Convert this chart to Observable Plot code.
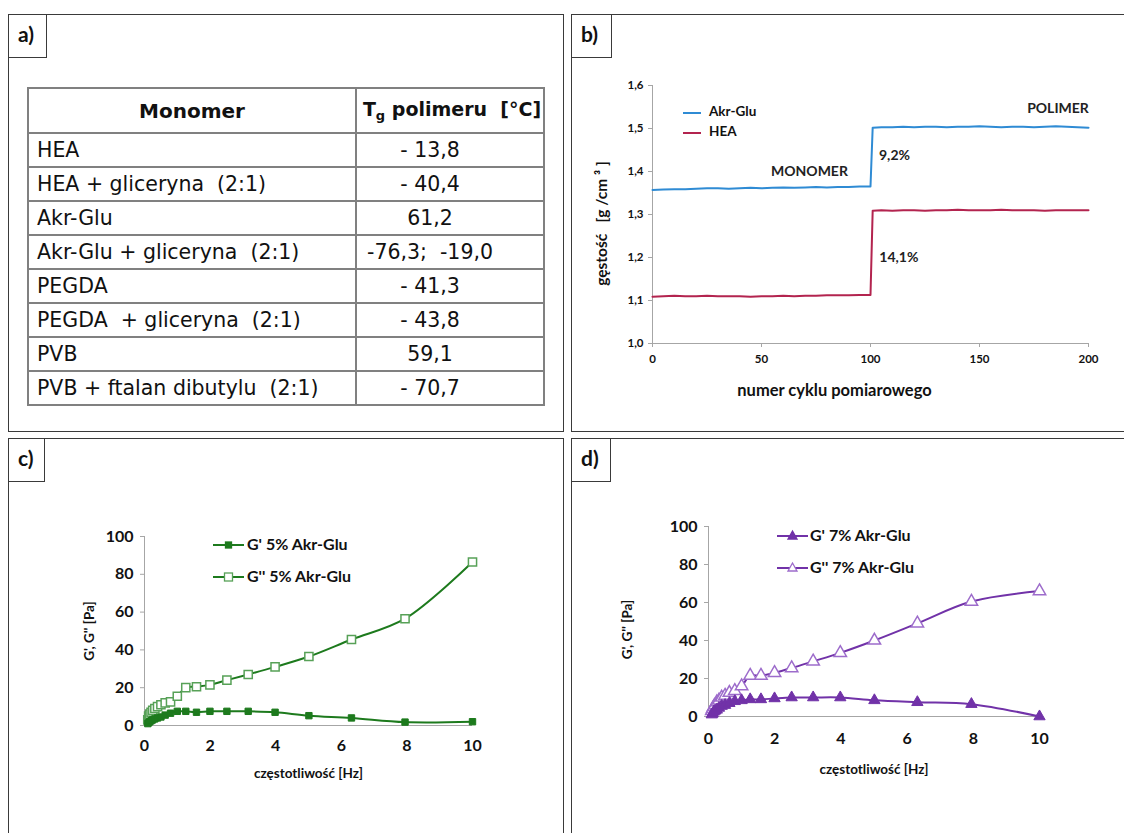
<!DOCTYPE html>
<html><head><meta charset="utf-8">
<script src="https://cdn.jsdelivr.net/npm/d3@7"></script>
<script src="https://cdn.jsdelivr.net/npm/@observablehq/plot@0.6"></script>
<style>
html,body{margin:0;padding:0;background:#fff}
body{width:1124px;height:833px;overflow:hidden;position:relative;font-family:Lato,"Open Sans",sans-serif}
.panel{position:absolute;border:1.5px solid #3a3a3a;box-sizing:border-box;background:#fff}
.lab{position:absolute;border:1.5px solid #3a3a3a;box-sizing:border-box;font:bold 21px Lato,sans-serif;padding:6px 0 0 9px;color:#111}
.abs{position:absolute}
table.tg{position:absolute;left:27px;top:87px;width:518px;border-collapse:collapse;font-family:"DejaVu Sans",sans-serif;font-size:20.5px;color:#111}
table.tg td,table.tg th{border:2px solid #808080;padding:0 0 0 8px;height:32px;white-space:pre}
table.tg th{height:43px;font-weight:bold;font-size:20px;text-align:center;padding:0}
table.tg th.tgh{font-size:19px;padding-left:4px}
table.tg td.v{text-align:center;padding:0 40px 0 0}
.leg{position:absolute;font:bold 16px Lato,sans-serif;color:#111;white-space:pre;line-height:16px}
</style></head>
<body>
<div class="panel" style="left:8px;top:14px;width:556px;height:418px"></div>
<div class="panel" style="left:571px;top:14px;width:560px;height:418px"></div>
<div class="panel" style="left:8px;top:438px;width:556px;height:400px"></div>
<div class="panel" style="left:571px;top:438px;width:560px;height:400px"></div>
<div class="lab" style="left:8px;top:14px;width:39px;height:44px">a)</div>
<div class="lab" style="left:571px;top:14px;width:41px;height:44px">b)</div>
<div class="lab" style="left:8px;top:438px;width:37px;height:44px">c)</div>
<div class="lab" style="left:571px;top:438px;width:40px;height:44px">d)</div>
<table class="tg" id="tbl"></table>
<div id="pb" class="abs" style="left:570px;top:57px"></div>
<div id="pc" class="abs" style="left:8px;top:481px"></div>
<div id="pd" class="abs" style="left:571px;top:481px"></div>
<div id="legends"></div>
<script>
// ---------- panel a: table ----------
const tableHeader = ["Monomer", "polimeru  [°C]"];
const monomers = ["HEA", "HEA + gliceryna  (2:1)", "Akr-Glu", "Akr-Glu + gliceryna  (2:1)", "PEGDA", "PEGDA  + gliceryna  (2:1)", "PVB", "PVB + ftalan dibutylu  (2:1)"];
const tgValues = ["- 13,8", "- 40,4", "61,2", "-76,3;  -19,0", "- 41,3", "- 43,8", "59,1", "- 70,7"];

// ---------- panel b: density ----------
const seriesB = ["Akr-Glu", "HEA"];
const colorsB = ["#2f8bd4", "#b3244f"];
const cyclesPre = [0,5,10,15,20,25,30,35,40,45,50,55,60,65,70,75,80,85,90,95,100];
const cyclesPost = [101,105,110,115,120,125,130,135,140,145,150,155,160,165,170,175,180,185,190,195,200];
const akrGluPre = [1.357,1.358,1.359,1.359,1.360,1.361,1.361,1.360,1.361,1.362,1.361,1.362,1.363,1.362,1.363,1.364,1.363,1.364,1.364,1.365,1.365];
const akrGluPost = [1.502,1.503,1.503,1.504,1.503,1.504,1.504,1.503,1.504,1.504,1.505,1.504,1.503,1.504,1.504,1.503,1.504,1.505,1.504,1.503,1.502];
const heaPre = [1.109,1.110,1.111,1.110,1.110,1.111,1.110,1.110,1.110,1.109,1.110,1.110,1.111,1.110,1.111,1.111,1.112,1.112,1.112,1.113,1.113];
const heaPost = [1.309,1.310,1.309,1.310,1.310,1.309,1.310,1.310,1.311,1.310,1.310,1.310,1.311,1.310,1.310,1.310,1.309,1.310,1.310,1.310,1.310];
const ticksBx = [0,50,100,150,200];
const ticksBy = [1.0,1.1,1.2,1.3,1.4,1.5,1.6];
const annotText = ["MONOMER", "POLIMER", "9,2%", "14,1%"];
const annotX = [72, 186, 111, 113];
const annotY = [1.40, 1.546, 1.437, 1.20];

// ---------- panels c, d: rheology ----------
const freq = [0.1,0.126,0.158,0.2,0.251,0.316,0.398,0.501,0.631,0.794,1,1.259,1.585,1.995,2.512,3.162,3.981,5.012,6.31,7.943,10];
const gPrime5 = [1,1.5,2,2.5,3,3.5,4,4.5,5.5,6.5,7.5,7.5,7,7.5,7.5,7.5,7,5.2,4,1.8,2];
const gDouble5 = [3,5,6,7,8,9,10,11,12,12.5,15.5,20,20.5,21.5,24,27,31,36.5,45.5,56.5,86.5];
const gPrime7 = [1,1.5,2.5,3,3.5,4.5,5.5,6,7,8,8.5,9,9,9.5,10,10,10,8.5,7.5,6.5,0];
const gDouble7 = [3,4,5,6,7.5,8.5,10,11,12.5,13.5,16,21.5,21.5,23,25.5,29,33.5,40,49,60.5,66];
const ticksFx = [0,2,4,6,8,10];
const ticksGy = [0,20,40,60,80,100];
const green = "#1d7a1d", greenLight = "#57a157";
const purple = "#7132a8", purpleLight = "#9d6ccb";

// build table
const tbl = document.getElementById("tbl");
{
  const tr = document.createElement("tr");
  const th1 = document.createElement("th"); th1.style.width = "326px"; th1.textContent = tableHeader[0];
  const th2 = document.createElement("th"); th2.className = "tgh";
  th2.innerHTML = 'T<sub style="font-size:13px;vertical-align:-4px">g</sub> ' + tableHeader[1];
  tr.append(th1, th2); tbl.append(tr);
  monomers.forEach((m, i) => {
    const r = document.createElement("tr");
    const a = document.createElement("td"); a.textContent = m;
    const b = document.createElement("td"); b.className = "v"; b.textContent = tgValues[i];
    r.append(a, b); tbl.append(r);
  });
}

const fmtComma = d => d.toFixed(1).replace(".", ",");
const axisGray = "#a6a6a6";

// panel b
const bData = [];
cyclesPre.forEach((c, i) => bData.push({cycle: c, d: akrGluPre[i], s: seriesB[0]}));
cyclesPost.forEach((c, i) => bData.push({cycle: c, d: akrGluPost[i], s: seriesB[0]}));
cyclesPre.forEach((c, i) => bData.push({cycle: c, d: heaPre[i], s: seriesB[1]}));
cyclesPost.forEach((c, i) => bData.push({cycle: c, d: heaPost[i], s: seriesB[1]}));
const annot = annotText.map((t, i) => ({t, x: annotX[i], y: annotY[i]}));

const plotB = Plot.plot({
  width: 554, height: 370,
  marginLeft: 82, marginRight: 36, marginTop: 28, marginBottom: 84,
  x: {domain: [0, 200]},
  y: {domain: [1.0, 1.6]},
  color: {domain: seriesB, range: colorsB},
  style: {fontFamily: "Lato, sans-serif", fontWeight: "bold", fontSize: "11.5px", color: "#111", background: "transparent", overflow: "visible"},
  marks: [
    Plot.ruleX([0], {stroke: axisGray}),
    Plot.ruleY([1.0], {stroke: axisGray}),
    Plot.axisX({ticks: ticksBx, tickSize: 4, tickPadding: 7, stroke: axisGray, fill: "#111", label: null}),
    Plot.axisY({ticks: ticksBy, tickSize: 4, tickPadding: 5, stroke: axisGray, fill: "#111", tickFormat: fmtComma, label: null}),
    Plot.line(bData, {x: "cycle", y: "d", stroke: "s", z: "s", strokeWidth: 2}),
    Plot.text(annot, {x: "x", y: "y", text: "t", fontSize: 14, fill: "#222"}),
    Plot.text(["numer cyklu pomiarowego"], {frameAnchor: "bottom", dx: -36, dy: 52, fontSize: 16.5, fill: "#111"}),
    Plot.text(["gęstość   [g /cm ³ ]"], {frameAnchor: "left", textAnchor: "middle", dx: -50, dy: 9, rotate: -90, fontSize: 15.5, fill: "#111"})
  ]
});
document.getElementById("pb").append(plotB);

function rheoPlot(cfg) {
  const dPrime = freq.map((f, i) => ({f, g: cfg.prime[i]}));
  const dDouble = freq.map((f, i) => ({f, g: cfg.dbl[i]}));
  return Plot.plot({
    width: cfg.width, height: 352,
    marginLeft: cfg.ml, marginRight: cfg.mr, marginTop: cfg.mt, marginBottom: cfg.mb,
    x: {domain: [0, 10]},
    y: {domain: [0, 100]},
    style: {fontFamily: "Lato, sans-serif", fontWeight: "bold", fontSize: "16px", color: "#111", background: "transparent", overflow: "visible"},
    marks: [
      Plot.ruleX([0], {stroke: axisGray}),
      Plot.ruleY([0], {stroke: axisGray}),
      Plot.axisX({ticks: ticksFx, tickSize: 0, tickPadding: cfg.xpad, fill: "#111", label: null}),
      Plot.axisY({ticks: ticksGy, tickSize: 4, tickPadding: 7, stroke: axisGray, fill: "#111", label: null}),
      Plot.line(dDouble, {x: "f", y: "g", curve: "catmull-rom", stroke: cfg.color, strokeWidth: 2}),
      Plot.line(dPrime, {x: "f", y: "g", curve: "catmull-rom", stroke: cfg.color, strokeWidth: 2}),
      Plot.dot(dDouble, {x: "f", y: "g", symbol: cfg.symbol, r: cfg.rOpen, fill: "white", stroke: cfg.light, strokeWidth: 1.5}),
      Plot.dot(dPrime, {x: "f", y: "g", symbol: cfg.symbol, r: cfg.rFill, fill: cfg.color, stroke: cfg.color, strokeWidth: 1}),
      Plot.text(["częstotliwość [Hz]"], {frameAnchor: "bottom", dy: cfg.xtdy, fontSize: 13.5, fill: "#111"}),
      Plot.text(["G', G'' [Pa]"], {frameAnchor: "left", textAnchor: "middle", dx: cfg.ytdx, dy: cfg.ytdy, rotate: -90, fontSize: 13.5, fill: "#111"})
    ]
  });
}

document.getElementById("pc").append(rheoPlot({
  width: 555, ml: 136, mr: 91, mt: 55, mb: 108, xpad: 14, xtdy: 52, ytdx: -55, ytdy: 0,
  prime: gPrime5, dbl: gDouble5, color: green, light: greenLight, symbol: "square", rOpen: 4.6, rFill: 3.6
}));
document.getElementById("pd").append(rheoPlot({
  width: 553, ml: 137, mr: 85, mt: 45, mb: 117, xpad: 16, xtdy: 57, ytdx: -81, ytdy: 8,
  prime: gPrime7, dbl: gDouble7, color: purple, light: purpleLight, symbol: "triangle", rOpen: 4.6, rFill: 4.2
}));

// legends (HTML overlays)
const legendItems = [
  {x: 683, y: 113, w: 18, tx: 709, label: seriesB[0], color: colorsB[0], marker: null, size: 13.5},
  {x: 683, y: 133, w: 18, tx: 709, label: seriesB[1], color: colorsB[1], marker: null, size: 13.5},
  {x: 213, y: 545, w: 31, tx: 247, label: "G' 5% Akr-Glu", color: green, marker: "sqFill"},
  {x: 213, y: 577, w: 31, tx: 247, label: "G'' 5% Akr-Glu", color: green, marker: "sqOpen", light: greenLight},
  {x: 777, y: 536, w: 31, tx: 810, label: "G' 7% Akr-Glu", color: purple, marker: "triFill"},
  {x: 777, y: 568, w: 31, tx: 810, label: "G'' 7% Akr-Glu", color: purple, marker: "triOpen", light: purpleLight}
];
const legRoot = document.getElementById("legends");
legendItems.forEach(it => {
  const svgNS = "http://www.w3.org/2000/svg";
  const svg = document.createElementNS(svgNS, "svg");
  svg.setAttribute("width", it.w + 2); svg.setAttribute("height", 14);
  svg.style.position = "absolute"; svg.style.left = (it.x - 1) + "px"; svg.style.top = (it.y - 7) + "px";
  const ln = document.createElementNS(svgNS, "line");
  ln.setAttribute("x1", 1); ln.setAttribute("x2", it.w + 1); ln.setAttribute("y1", 7); ln.setAttribute("y2", 7);
  ln.setAttribute("stroke", it.color); ln.setAttribute("stroke-width", 2);
  svg.append(ln);
  const cx = it.w / 2 + 1;
  if (it.marker) {
    let m;
    if (it.marker.startsWith("sq")) {
      m = document.createElementNS(svgNS, "rect");
      const s = it.marker === "sqFill" ? 6 : 8;
      m.setAttribute("x", cx - s / 2); m.setAttribute("y", 7 - s / 2); m.setAttribute("width", s); m.setAttribute("height", s);
    } else {
      m = document.createElementNS(svgNS, "path");
      m.setAttribute("d", `M${cx},2 L${cx + 4.5},10 L${cx - 4.5},10 Z`);
    }
    const filled = it.marker.endsWith("Fill");
    m.setAttribute("fill", filled ? it.color : "white");
    m.setAttribute("stroke", filled ? it.color : it.light);
    m.setAttribute("stroke-width", 1.3);
    svg.append(m);
  }
  legRoot.append(svg);
  const t = document.createElement("div");
  t.className = "leg"; t.textContent = it.label;
  const fs = it.size || 16;
  t.style.fontSize = fs + "px"; t.style.lineHeight = fs + "px";
  t.style.left = it.tx + "px";
  t.style.top = (it.y - fs / 2 - 1) + "px";
  legRoot.append(t);
});
</script>
</body></html>
